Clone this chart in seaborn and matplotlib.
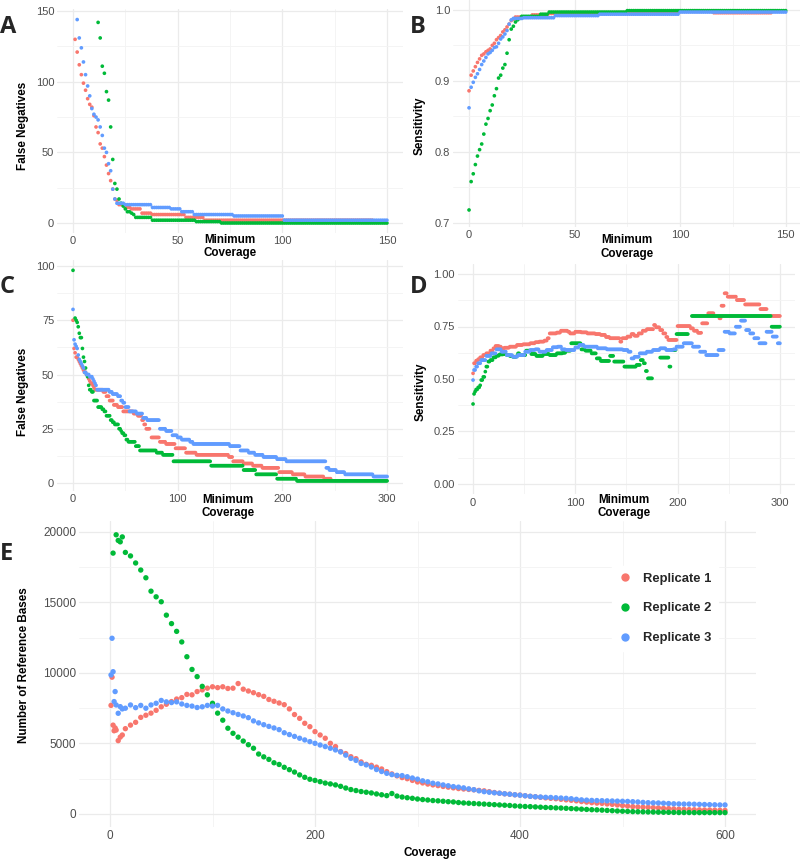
import numpy as np
import pandas as pd
import seaborn as sns
from matplotlib import pyplot as plt
from matplotlib.lines import Line2D
from matplotlib.ticker import MultipleLocator, FormatStrFormatter

names = ["Replicate 1", "Replicate 2", "Replicate 3"]
colors = ["#F8766D", "#00BA38", "#619CFF"]

# step data: value holds from each start coverage until the next one (nan = gap)
# A: false negatives, panel 1
a_rep1_x = [1, 2, 3, 4, 5, 6, 7, 8, 9, 10, 11, 12, 13, 14, 15, 16, 17, 18, 19, 20, 21, 22, 25, 28, 33, 38, 54, 63]
a_rep1_y = [130, 121, 112, 105, 99, 94, 88, 84, 82, 76, 68, 64, 56, 53, 47, 41, 35, 30, 24, 17, 16, 13, 11, 10, 7, 6, 4, 2]
a_rep1_end = 143
a_rep2_x = [12, 13, 14, 15, 16, 17, 18, 19, 20, 21, 22, 23, 24, 25, 26, 28, 29, 30, 38, 59, 71]
a_rep2_y = [142, 131, 111, 106, 93, 87, 68, 45, 28, 24, 17, 14, 12, 10, 8, 7, 6, 4, 2, 1, 0]
a_rep2_end = 150
a_rep3_x = [2, 3, 4, 5, 6, 7, 8, 9, 10, 11, 12, 13, 14, 15, 16, 17, 18, 19, 20, 21, 25, 38, 47, 52, 58, 77, 101]
a_rep3_y = [144, 131, 124, 114, 105, 97, 90, 81, 77, 75, 73, 68, 62, 53, 50, 42, 37, 24, 17, 14, 13, 11, 10, 8, 6, 5, 2]
a_rep3_end = 150

# B: sensitivity, panel 1
b_rep1_x = list(range(0, 22)) + [22, 30, 38, 60, 75, 116]
b_rep1_y = [.886, .908, .914, .920, .926, .931, .936, .938, .941, .943, .945, .950, .953, .958, .961, .964,
            .969, .972, .976, .980, .985, .987, .990, .993, .995, .996, .998, .996]
b_rep1_end = 143
b_rep2_x = list(range(0, 25)) + [25, 34, 38, 75]
b_rep2_y = [.718, .758, .769, .782, .794, .803, .811, .825, .839, .847, .858, .866, .879, .889, .904, .908,
            .918, .923, .939, .958, .973, .977, .983, .986, .988, .991, .994, .997, .999]
b_rep2_end = 150
b_rep3_x = list(range(0, 22)) + [26, 41, 62, 100]
b_rep3_y = [.862, .891, .898, .905, .910, .916, .923, .928, .933, .938, .940, .943, .947, .948, .953, .959,
            .962, .966, .971, .980, .986, .988, .989, .992, .994, .997]
b_rep3_end = 150

# C: false negatives, panel 2
c_rep1_x = [0, 1, 2, 3, 5, 6, 7, 8, 9, 10, 11, 13, 14, 15, 16, 17, 19, 20, 21, 29, 32, 35, 39, 43, 48, 58, 62,
            66, 68, 70, 74, 75, 83, 89, 98, 108, 118, 149, 153, 163, 172, 181, 197, 210, 222, 240]
c_rep1_y = [75, 62, 60, 58, 57, 56, 55, 54, 53, 52, 51, 50, 49, 48, 47, 46, 45, 44, 43, 42, 40, 38, 36, 35, 33,
            32, 31, 29, 27, 25, np.nan, 21, 19, 18, 16, 14, 13, 12, 10, 9, 8, 7, 5, 4, 3, 2]
c_rep1_end = 246
c_rep2_x = [0, 1, 2, 3, 4, 5, 6, 7, 9, 10, 11, 12, 13, 14, 15, 16, 18, 20, 24, 28, 30, 32, 36, 38, 40, 44, 46,
            47, 49, 51, 53, 60, 64, 80, 86, 96, 132, 163, 175, 195, 214]
c_rep2_y = [98, np.nan, 76, 75, 74, 72, 69, 67, 62, 58, 56, 53, 50, 49, 45, 43, 42, 38, 35, 34, 33, 31, 29, 28,
            27, 25, 24, 23, 22, 20, 19, 17, 15, 14, 13, 10, 8, 6, 4, 2, 1]
c_rep2_end = 300
c_rep3_x = [0, 1, 2, 3, 4, 5, 6, 7, 8, 9, 10, 11, 13, 16, 19, 20, 21, 22, 23, 35, 38, 43, 46, 48, 50, 54, 61,
            67, 71, 83, 89, 95, 100, 104, 112, 115, 150, 160, 168, 174, 182, 195, 204, 242, 245, 252, 260, 287]
c_rep3_y = [80, 66, 64, 63, 62, 59, 57, 56, 55, 54, 53, 51, 50, 49, 48, 47, 46, 45, 43, 42, 41, 40, 38, 37, 35,
            33, 32, 30, 29, 25, 24, 22, 21, 20, 19, 18, 17, 15, 14, 13, 12, 11, 10, 7, 6, 5, 4, 3]
c_rep3_end = 300

# D: sensitivity, panel 2
d_rep1_x = [0, 1, 3, 5, 7, 10, 13, 17, 20, 22, 26, 28, 31, 36, 43, 49, 56, 61, 65, 70, 73, 75, 82, 86, 93, 95,
            100, 106, 112, 120, 125, 130, 134, 144, 146, 151, 155, 158, 162, 166, 170, 177, 179, 183, 186, 189,
            191, 200, 213, 216, 220, 224, 230, 236, 241, 243, 246, 249, 258, 266, 281, 288, 292]
d_rep1_y = [.527, .575, .587, .594, .603, .614, .622, .635, .646, .657, .654, .646, .649, .654, .662, .665,
            .670, .675, .678, .683, .694, .717, .721, .730, .725, .717, .725, .722, .717, .714, .710, .700,
            .694, .678, .694, .702, .714, .706, .717, .730, .737, .757, .746, .733, .717, .700, .686, .752,
            .741, .730, .720, .765, .813, np.nan, .789, .849, .908, .892, .876, .855, .833, np.nan, .800]
d_rep1_end = 300
d_rep2_x = [0, 1, 2, 3, 5, 7, 8, 10, 12, 13, 15, 17, 20, 23, 26, 30, 33, 36, 39, 43, 44, 46, 52, 57, 62, 69,
            75, 82, 88, 91, 96, 106, 110, 116, 121, 125, 134, 138, 148, 160, 164, 167, 169, 171, 176, 183, 192,
            194, 199, 211, 214, 292]
d_rep2_y = [.381, .429, .440, .450, .460, .470, .495, .510, .535, .559, .583, .590, .603, .611, .617, .619,
            .614, .610, .606, .610, .622, .614, .635, .619, .610, .619, .614, .622, .625, .635, .670, .641,
            .635, .622, .598, .586, .610, .583, .559, .567, .590, .575, .538, .503, np.nan, .602, .559, .638,
            .714, np.nan, .800, .749]
d_rep2_end = 300
d_rep3_x = [0, 1, 3, 5, 8, 13, 18, 23, 28, 33, 39, 44, 51, 56, 61, 65, 72, 78, 83, 87, 91, 100, 104, 109, 122,
            131, 147, 152, 155, 158, 163, 170, 176, 183, 189, 196, 199, 206, 215, 222, 228, 240, 246, 251, 257,
            262, 267, 271, 275, 280, 287, 293, 298]
d_rep3_y = [.495, .543, .559, .575, .590, .610, .622, .641, .630, .614, .606, .614, .630, .638, .641, .630,
            .638, .651, .654, .641, .638, .650, .662, .654, .646, .641, .638, .630, .598, .606, .622, .630,
            .638, .646, .638, .641, .654, .670, .654, .630, .614, .638, .725, .717, .749, .778, .733, .717,
            .694, .670, .725, .702, .670]
d_rep3_end = 300

# E: coverage distribution
e_cov = [1, 2, 3, 4, 5, 6, 8, 10, 12, 15] + list(range(20, 605, 5))
e_rep1 = [7700, 9700, 6300, 5900, 6100, 5950, 5200, 5450, 5600, 6050,
          6300, 6500, 6850, 7000, 7150, 7350, 7600, 7780, 7970, 8150,
          8250, 8480, 8450, 8680, 8800, 8920, 9020, 8960, 9020, 8900,
          8920, 9250, 8850, 8720, 8600, 8460, 8340, 8120, 7990, 7870,
          7750, 7450, 7050, 6780, 6430, 6190, 5840, 5600, 5370, 5010,
          4780, 4420, 4280, 4060, 3920, 3690, 3520, 3450, 3320, 3190,
          3000, 2840, 2700, 2580, 2500, 2380, 2270, 2200, 2120, 2060,
          2010, 1950, 1900, 1850, 1800, 1770, 1740, 1710, 1670, 1640,
          1580, 1520, 1470, 1430, 1400, 1360, 1340, 1290, 1250, 1220,
          1180, 1140, 1110, 1080, 1040, 1000, 970, 930, 880, 840,
          800, 770, 750, 710, 680, 640, 600, 560, 520, 500,
          480, 470, 450, 430, 400, 380, 360, 340, 330, 310,
          300, 290, 280, 280, 270, 260, 250]
e_rep2 = [np.nan, np.nan, 18500, np.nan, np.nan, 19800, 19400, 19300, 19650, 18550,
          18300, 17800, 17300, 16750, 15800, 15400, 15050, 14100, 13500, 12950,
          12200, 11150, 10250, 9740, 9050, 8450, 7850, 7150, 6650, 6080,
          5720, 5450, 5170, 4910, 4660, 4250, 4050, 3870, 3630, 3510,
          3310, 3140, 2970, 2770, 2600, 2460, 2380, 2290, 2190, 2130,
          2060, 1960, 1840, 1730, 1660, 1590, 1540, 1490, 1420, 1360,
          1300, 1450, 1270, 1200, 1150, 1110, 1060, 1020, 990, 950,
          930, 900, 870, 850, 810, 780, 760, 740, 720, 700,
          680, 660, 640, 620, 600, 570, 550, 530, 520, 500,
          480, 460, 450, 430, 420, 400, 380, 360, 340, 320,
          300, 290, 270, 250, 230, 210, 195, 180, 165, 155,
          150, 140, 135, 125, 120, 115, 110, 100, 100, 100,
          95, 95, 95, 95, 95, 95, 95]
e_rep3 = [9860, 12460, 10090, 7970, 8680, 7730, 7140, 7610, 7450, 7500,
          7730, 7540, 7700, 7500, 7730, 7850, 8050, 7950, 7900, 7950,
          7800, 7700, 7650, 7550, 7600, 7700, 7650, 7700, 7450, 7300,
          7180, 7060, 6950, 6830, 6600, 6460, 6330, 6210, 6100, 5980,
          5760, 5630, 5500, 5370, 5250, 5130, 5010, 4890, 4780, 4660,
          4540, 4400, 4170, 3940, 3800, 3580, 3480, 3330, 3150, 3010,
          2880, 2790, 2740, 2720, 2640, 2550, 2470, 2350, 2280, 2180,
          2130, 2060, 2000, 1940, 1900, 1850, 1780, 1720, 1640, 1580,
          1540, 1500, 1470, 1430, 1400, 1360, 1330, 1290, 1250, 1220,
          1200, 1180, 1170, 1150, 1130, 1110, 1080, 1040, 1000, 980,
          960, 950, 940, 930, 920, 910, 900, 890, 870, 850,
          820, 800, 790, 780, 760, 740, 720, 710, 700, 700,
          690, 680, 670, 660, 650, 640, 640]


def expand(starts, values, end):
    bounds = list(starts) + [end + 1]
    xs, ys = [], []
    for i, v in enumerate(values):
        for x in range(bounds[i], bounds[i + 1]):
            xs.append(x)
            ys.append(v)
    return xs, ys


def step_frame(series):
    frames = []
    for name, (s, v, e) in zip(names, series):
        xs, ys = expand(s, v, e)
        frames.append(pd.DataFrame({"x": xs, "y": ys, "Replicate": name}))
    return pd.concat(frames).dropna()


sns.set_theme(style="white")
plt.rcParams['font.family'] = ['Liberation Sans', 'DejaVu Sans']

W, H = 800, 860
fig = plt.figure(figsize=(W / 100, H / 100), dpi=100)


def px_axes(left, top, right, bottom):
    return fig.add_axes([left / W, 1 - bottom / H, (right - left) / W, (bottom - top) / H])


def ftext(x, y, s, **kw):
    fig.text(x / W, 1 - y / H, s, **kw)


def style(ax, xlim, ylim, xmaj, xmin, ymaj, ymin, fmt="%d", size=8):
    ax.set_xlim(xlim)
    ax.set_ylim(ylim)
    ax.xaxis.set_major_locator(MultipleLocator(xmaj))
    ax.xaxis.set_minor_locator(MultipleLocator(xmin))
    ax.yaxis.set_major_locator(MultipleLocator(ymaj))
    ax.yaxis.set_minor_locator(MultipleLocator(ymin))
    ax.yaxis.set_major_formatter(FormatStrFormatter(fmt))
    ax.xaxis.set_major_formatter(FormatStrFormatter("%d"))
    ax.grid(which="major", color="#EBEBEB", lw=0.9)
    ax.grid(which="minor", color="#F3F3F3", lw=0.6)
    ax.set_axisbelow(True)
    for sp in ax.spines.values():
        sp.set_visible(False)
    ax.tick_params(which="both", length=0, labelsize=size, labelcolor="#4D4D4D", pad=2.2)
    ax.set_xlabel("")
    ax.set_ylabel("")


def draw_steps(ax, series, s=7):
    df = step_frame(series)
    sns.scatterplot(data=df, x="x", y="y", hue="Replicate", hue_order=names, palette=colors,
                    s=s, linewidth=0, legend=False, ax=ax)


ax_a = px_axes(57.3, 9.4, 402.6, 233.2)
draw_steps(ax_a, [(a_rep1_x, a_rep1_y, a_rep1_end), (a_rep2_x, a_rep2_y, a_rep2_end),
                  (a_rep3_x, a_rep3_y, a_rep3_end)])
style(ax_a, (-7.5, 157.5), (-7.2, 151.2), 50, 25, 50, 25)

ax_b = px_axes(453.2, 0, 801.5, 227)
draw_steps(ax_b, [(b_rep1_x, b_rep1_y, b_rep1_end), (b_rep2_x, b_rep2_y, b_rep2_end),
                  (b_rep3_x, b_rep3_y, b_rep3_end)])
style(ax_b, (-7.5, 157.5), (0.694, 1.014), 50, 25, 0.1, 0.05, fmt="%.1f")

ax_c = px_axes(57.3, 259.8, 402.8, 491.4)
draw_steps(ax_c, [(c_rep1_x, c_rep1_y, c_rep1_end), (c_rep2_x, c_rep2_y, c_rep2_end),
                  (c_rep3_x, c_rep3_y, c_rep3_end)])
style(ax_c, (-15, 315), (-3.85, 102.85), 100, 50, 25, 12.5)

ax_d = px_axes(457.7, 263.5, 795.2, 494.5)
draw_steps(ax_d, [(d_rep1_x, d_rep1_y, d_rep1_end), (d_rep2_x, d_rep2_y, d_rep2_end),
                  (d_rep3_x, d_rep3_y, d_rep3_end)])
style(ax_d, (-15, 315), (-0.05, 1.05), 100, 50, 0.25, 0.125, fmt="%.2f")

ax_e = px_axes(79.25, 520.9, 755.75, 826.5)
df_e = pd.concat([pd.DataFrame({"x": e_cov, "y": vals, "Replicate": name})
                  for name, vals in zip(names, [e_rep1, e_rep2, e_rep3])]).dropna()
sns.scatterplot(data=df_e, x="x", y="y", hue="Replicate", hue_order=names, palette=colors,
                s=15, linewidth=0, legend=False, ax=ax_e)
style(ax_e, (-30, 630), (-890, 20785), 200, 100, 5000, 2500, size=8.5)

handles = [Line2D([0], [0], marker="o", ls="", color=c, markersize=5) for c in colors]
ax_e.legend(handles, names, loc="upper left", bbox_to_anchor=(612 / W, 1 - 566 / H),
            bbox_transform=fig.transFigure, frameon=True, facecolor="white", edgecolor="white",
            framealpha=1, fancybox=False, borderpad=0.5, borderaxespad=0, handlelength=1.0,
            handletextpad=0.9, labelspacing=1.35, prop={"weight": "bold", "size": 9.4})

# axis titles
lab = dict(fontsize=8.4, fontweight="bold", color="black")
ftext(23, 126, "False Negatives", rotation=90, ha="center", va="center", **lab)
ftext(420, 126, "Sensitivity", rotation=90, ha="center", va="center", **lab)
ftext(23, 392, "False Negatives", rotation=90, ha="center", va="center", **lab)
ftext(421, 392, "Sensitivity", rotation=90, ha="center", va="center", **lab)
ftext(24, 665, "Number of Reference Bases", rotation=90, ha="center", va="center", **lab)
ftext(230, 246.5, "Minimum\nCoverage", ha="center", va="center", linespacing=1.2, **lab)
ftext(627, 247, "Minimum\nCoverage", ha="center", va="center", linespacing=1.2, **lab)
ftext(228, 506.5, "Minimum\nCoverage", ha="center", va="center", linespacing=1.2, **lab)
ftext(624, 506.5, "Minimum\nCoverage", ha="center", va="center", linespacing=1.2, **lab)
ftext(430, 853, "Coverage", ha="center", va="center", **lab)

# panel letters
let = dict(fontsize=17, fontweight="bold", family=["Open Sans", "DejaVu Sans"], va="baseline", ha="left")
ftext(0, 33, "A", **let)
ftext(410, 33, "B", **let)
ftext(0, 293, "C", **let)
ftext(410, 293, "D", **let)
ftext(0, 560, "E", **let)

fig.savefig("out.png", dpi=100)
